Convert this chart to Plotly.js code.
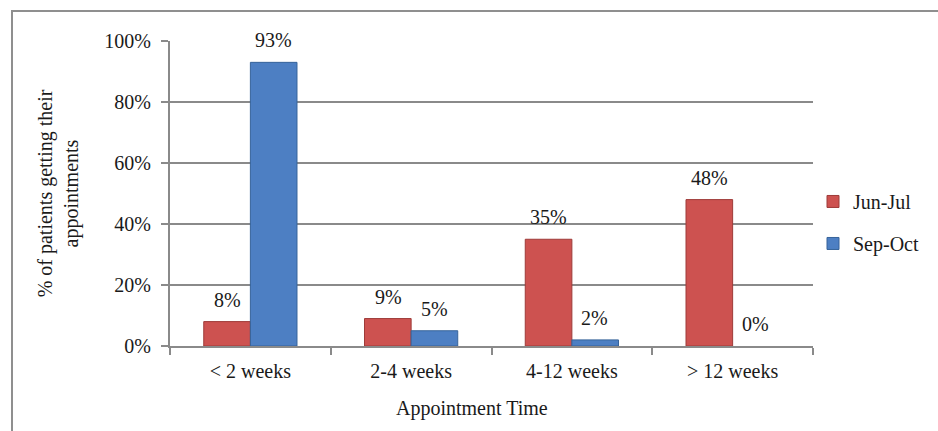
<!DOCTYPE html>
<html><head><meta charset="utf-8">
<script src="https://cdn.plot.ly/plotly-3.0.1.min.js"></script>
<style>body{margin:0;padding:0;background:#fff}#wrap{position:relative;width:938px;height:431px}#chart{position:absolute;left:0;top:0;width:938px;height:431px}#frame{position:absolute;left:11px;top:10px;width:930px;height:430px;border:2px solid #8f8f8f;pointer-events:none;box-sizing:border-box}</style>
</head><body>
<div id="wrap"><div id="chart"></div><div id="frame"></div></div>
<script>
const categories = ['< 2 weeks', '2-4 weeks', '4-12 weeks', '> 12 weeks'];
const seriesNames = ['Jun-Jul', 'Sep-Oct'];
const junJul = [8, 9, 35, 48];
const sepOct = [93, 5, 2, 0];
const yTickVals = [0, 20, 40, 60, 80, 100];
const yTickText = ['0%', '20%', '40%', '60%', '80%', '100%'];

const font = 'Liberation Serif, Times New Roman, serif';
const fs = 20;
const txt = '#1a1a1a';
const traces = [
  {type:'bar', name:seriesNames[0], x:categories, y:junJul, legendgroup:'a',
   marker:{color:'#CD5250', line:{color:'#9E3B39', width:1}}, hoverinfo:'none'},
  {type:'bar', name:seriesNames[1], x:categories, y:sepOct, legendgroup:'b',
   marker:{color:'#4D7FC3', line:{color:'#36639A', width:sepOct.map(v => v > 0 ? 1 : 0)}}, hoverinfo:'none'}
];
const annotations = [];
[junJul, sepOct].forEach((vals, si) => {
  vals.forEach((v, i) => {
    annotations.push({x:categories[i], y:v, xref:'x', yref:'y', text:v+'%', showarrow:false,
      xshift: si===0 ? -23 : 23, yshift: 22, font:{family:font, size:fs, color:txt}});
  });
});
annotations.push({x:0.47, y:-0.205, xref:'paper', yref:'paper', text:'Appointment Time', showarrow:false,
  xanchor:'center', yanchor:'middle', font:{family:font, size:fs, color:txt}});
const layout = {
  width:938, height:431,
  margin:{l:170, r:125, t:41, b:85},
  paper_bgcolor:'#fff', plot_bgcolor:'#fff',
  barmode:'group', bargap:0.42, bargroupgap:0,
  font:{family:font, size:fs, color:txt},
  xaxis:{type:'category', tickson:'boundaries', ticks:'outside', ticklen:7, tickwidth:2, tickcolor:'#8a8a8a',
    showline:true, linecolor:'#8a8a8a', linewidth:2, showgrid:false, ticklabelstandoff:6,
    tickfont:{family:font, size:fs, color:txt}},
  yaxis:{range:[0,100], tickvals:yTickVals, ticktext:yTickText, ticks:'outside', ticklen:7, tickwidth:2, tickcolor:'#8a8a8a',
    showline:true, linecolor:'#8a8a8a', linewidth:2, showgrid:true, gridcolor:'#8a8a8a', gridwidth:2, zeroline:false,
    ticklabelstandoff:6,
    tickfont:{family:font, size:fs, color:txt},
    title:{text:'% of patients getting their<br>appointments', standoff:20, font:{family:font, size:fs, color:txt}}},
  legend:{x:1.0, xanchor:'left', y:0.405, yanchor:'middle', traceorder:'grouped', tracegroupgap:13,
    itemwidth:30, font:{family:font, size:fs, color:txt}, bgcolor:'rgba(0,0,0,0)'},
  annotations: annotations,
  showlegend:true
};
Plotly.newPlot('chart', traces, layout, {staticPlot:true, displayModeBar:false});
</script>
</body></html>
